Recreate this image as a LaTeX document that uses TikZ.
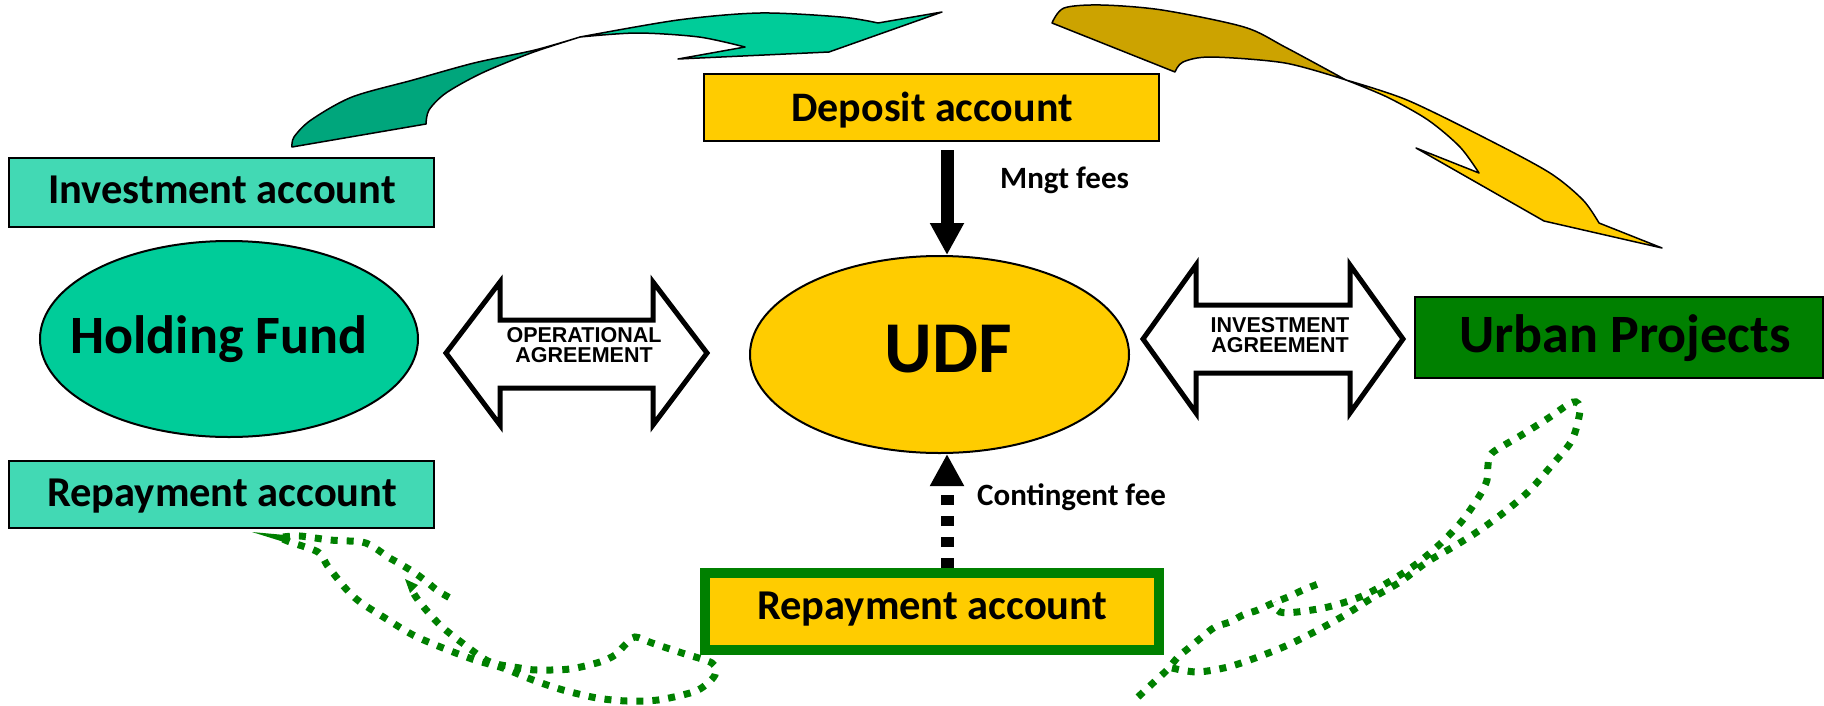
\documentclass[tikz,border=0pt]{standalone}
\usepackage{fontspec}
\setmainfont{Carlito}
\newfontfamily\arialfont{Liberation Sans}
\usetikzlibrary{arrows.meta,shapes.geometric}

\definecolor{aqua}{RGB}{66,217,180}
\definecolor{hfgreen}{RGB}{0,204,153}
\definecolor{hfdark}{RGB}{0,166,124}
\definecolor{goldfill}{RGB}{255,204,0}
\definecolor{golddark}{RGB}{204,163,0}
\definecolor{projgreen}{RGB}{0,128,0}

\newcommand\setfs[1]{\fontsize{#1}{#1}\selectfont}

\tikzset{
  acct/.style={rectangle, draw=black, line width=2pt, fill=aqua,
    minimum width=425pt, minimum height=67pt, inner sep=0pt},
  goldbox/.style={rectangle, draw=black, line width=2pt, fill=goldfill, inner sep=0pt},
  oval/.style={ellipse, draw=black, line width=2pt, inner sep=0pt},
  lbl/.style={anchor=base, inner sep=0pt, font=\bfseries\setfs{42.5}},
  biglbl/.style={anchor=base, inner sep=0pt, font=\bfseries\setfs{54}},
  smalllbl/.style={anchor=base west, inner sep=0pt, font=\bfseries\setfs{31}},
  agrlbl/.style={anchor=base, inner sep=0pt, font=\arialfont\bfseries\setfs{21.5}},
  dblarrow/.style={draw=black, fill=white, line width=5pt, line join=miter},
  ribbon/.style={draw=black, line width=1.5pt, line join=round},
  feearrow/.style={draw=black, line width=13pt,
    -{Triangle[width=32pt,length=32pt]}},
  dots/.style={draw=projgreen, line width=7pt, dash pattern=on 7pt off 9pt},
}

\begin{document}
\begin{tikzpicture}[x=1pt,y=-1pt]
\useasboundingbox (0,0) rectangle (1824,705);

% ---- curved ribbon arrow: holding fund -> deposit account
\filldraw[ribbon, fill=hfdark]
  (292,147) -- (426,124)
  -- plot[smooth] coordinates {(426,124) (429,110) (446,93) (482,73) (531,53) (580,37)}
  -- plot[smooth] coordinates {(580,37) (535,50) (474,63) (413,80) (352,97) (311,120) (294,137) (292,147)}
  -- cycle;
\filldraw[ribbon, fill=hfgreen]
  plot[smooth] coordinates {(580,37) (678,20) (760,13) (841,17) (878,23)}
  -- (942,12) -- (829,52) -- (678,59) -- (745,47)
  -- plot[smooth] coordinates {(745,47) (699,37) (637,33) (580,37)}
  -- cycle;

% ---- curved ribbon arrow: deposit account -> urban projects
\filldraw[ribbon, fill=golddark]
  (1052,23) -- (1175,72)
  -- plot[smooth] coordinates {(1175,72) (1183,62) (1211,57) (1285,63) (1346,80)}
  -- plot[smooth] coordinates {(1346,80) (1285,47) (1244,27) (1162,10) (1101,5) (1064,8) (1052,23)}
  -- cycle;
\filldraw[ribbon, fill=goldfill]
  plot[smooth] coordinates {(1346,80) (1407,100) (1489,140) (1550,173) (1583,200) (1599,223)}
  -- (1662,248) -- (1544,221) -- (1416,148) -- (1479,173)
  -- plot[smooth] coordinates {(1479,173) (1460,147) (1428,120) (1387,97) (1346,80)}
  -- cycle;

% ---- dotted return loops
\fill[projgreen] (252,532) -- (285,535) -- (284,542) -- cycle;
\draw[dots] plot[smooth] coordinates {(283,537) (300,536) (330,540) (362,542) (375,548)
  (388,557) (402,565) (415,573) (427,582) (438,591) (452,599)};
\draw[dots] plot[smooth] coordinates {(283,539) (290,542) (318,552) (327,565) (337,578)
  (347,590) (360,602) (385,618) (413,635) (443,648) (475,660) (503,668) (533,680)
  (563,690) (597,698) (627,701) (658,700) (690,693) (703,687) (715,675) (712,663)
  (682,653) (652,643) (635,637) (625,645) (615,655) (600,662) (570,669) (537,670)
  (520,668) (490,662) (465,645) (440,625) (418,600) (410,586)};
\fill[projgreen] (405,579) -- (418,585) -- (410,593) -- cycle;

\draw[dots] plot[smooth] coordinates {(1138,697) (1153,683) (1167,670) (1178,657)
  (1190,647) (1202,637) (1215,627) (1230,622) (1243,615) (1258,610) (1273,603)
  (1288,597) (1303,590) (1318,584)};
\draw[dots] plot[smooth] coordinates {(1172,668) (1197,672) (1228,667) (1258,657)
  (1288,645) (1318,630) (1345,615) (1372,598) (1400,582) (1427,562) (1453,547)
  (1480,530) (1507,510) (1530,490) (1552,465) (1572,440) (1580,410) (1573,402)
  (1547,419) (1520,436) (1492,453) (1488,465) (1487,480) (1480,495) (1462,521)
  (1440,544) (1415,565) (1387,583) (1360,597) (1328,607) (1297,612) (1280,612)
  (1273,603)};

% ---- left column
\node[acct, minimum height=69pt] (inv) at (221.5,192.5) {};
\node[lbl] (invT) at (222,203) {Investment account};
\node[oval, fill=hfgreen, minimum width=378pt, minimum height=196pt] (hf) at (229,339) {};
\node[biglbl] (hfT) at (219,353) {Holding Fund};
\node[acct] (rpl) at (221.5,494.5) {};
\node[lbl] (rplT) at (222,506) {Repayment account};

% ---- centre column
\node[goldbox, minimum width=455pt, minimum height=67pt] (dep) at (931.5,107.5) {};
\node[lbl, font=\bfseries\setfs{42}] (depT) at (932,121) {Deposit account};
\node[oval, fill=goldfill, minimum width=379pt, minimum height=197pt] (udf) at (939.5,354.5) {};
\node[anchor=base, inner sep=0pt, font=\bfseries\setfs{73}] (udfT) at (948,372) {UDF};
\node[rectangle, draw=projgreen, line width=10pt, fill=goldfill, inner sep=0pt,
      minimum width=454pt, minimum height=77pt] (rpc) at (932,611.5) {};
\node[lbl] (rpcT) at (932,619) {Repayment account};

% ---- fee flows
\coordinate (mg) at (947,150);
\draw[feearrow] (mg) -- (mg |- udf.north);
\node[smalllbl] (mgT) at (1000,188) {Mngt fees};
\draw[feearrow, dash pattern=on 10pt off 11pt] (rpc.north -| mg) -- (mg |- udf.south);
\node[smalllbl] (cfT) at (977,505) {Contingent fee};

% ---- right column
\node[rectangle, draw=black, line width=2pt, fill=projgreen, inner sep=0pt,
      minimum width=408pt, minimum height=81pt] (up) at (1619,337.5) {};
\node[biglbl] (upT) at (1625,352) {Urban Projects};

% ---- agreement double arrows
\draw[dblarrow] (446,353) -- (500,282) -- (500,320) -- (653,320) -- (653,282)
  -- (707,353) -- (653,425) -- (653,388) -- (500,388) -- (500,425) -- cycle;
\node[agrlbl] (oa1) at (584,342) {OPERATIONAL};
\node[agrlbl] (oa2) at (584,362) {AGREEMENT};

\draw[dblarrow] (1143,339) -- (1196,265) -- (1196,305) -- (1350,305) -- (1350,265)
  -- (1403,339) -- (1350,413) -- (1350,373) -- (1196,373) -- (1196,413) -- cycle;
\node[agrlbl] (ia1) at (1280,332) {INVESTMENT};
\node[agrlbl] (ia2) at (1280,352) {AGREEMENT};
\end{tikzpicture}
\end{document}
